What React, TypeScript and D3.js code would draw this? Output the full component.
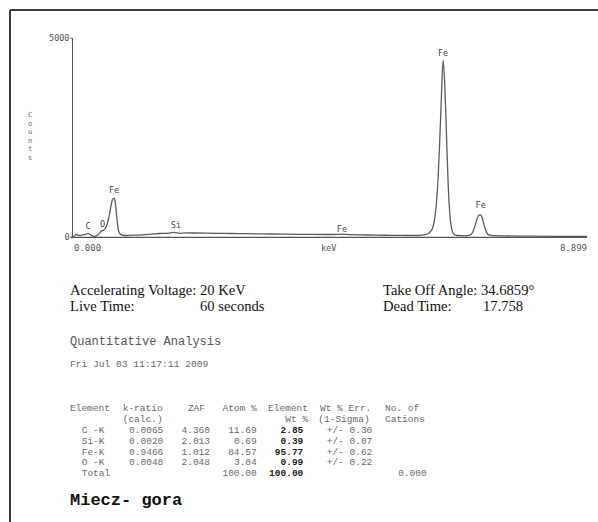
import React from "react";
import * as d3 from "d3";

// ---- Spectrum data: [energy keV, counts] ----
const spectrumKeV = [0.0, 0.03, 0.06, 0.1, 0.13, 0.17, 0.2, 0.24, 0.27, 0.3, 0.33, 0.37, 0.4, 0.44, 0.47, 0.5, 0.52, 0.55, 0.58, 0.61, 0.64, 0.67, 0.69, 0.72, 0.74, 0.76, 0.78, 0.8, 0.83, 0.87, 0.93, 1.0, 1.1, 1.2, 1.3, 1.4, 1.5, 1.6, 1.68, 1.74, 1.79, 1.85, 1.95, 2.1, 2.3, 2.5, 2.75, 3.0, 3.3, 3.6, 3.9, 4.2, 4.5, 4.66, 4.8, 5.1, 5.4, 5.7, 5.95, 6.08, 6.17, 6.23, 6.27, 6.31, 6.35, 6.38, 6.41, 6.44, 6.47, 6.5, 6.53, 6.56, 6.6, 6.65, 6.72, 6.8, 6.87, 6.92, 6.96, 7.0, 7.03, 7.06, 7.09, 7.12, 7.16, 7.2, 7.28, 7.45, 7.7, 8.0, 8.3, 8.6, 8.899];
const spectrumCounts = [0, 30, 70, 55, 45, 60, 65, 80, 100, 75, 45, 25, 30, 60, 110, 160, 170, 190, 260, 380, 580, 820, 940, 985, 880, 600, 320, 150, 75, 50, 45, 48, 55, 62, 75, 85, 95, 100, 105, 125, 115, 100, 110, 108, 104, 100, 96, 90, 85, 80, 75, 72, 70, 78, 65, 58, 52, 46, 45, 60, 110, 240, 520, 1150, 2350, 3500, 4450, 3800, 2500, 1250, 520, 200, 75, 45, 40, 38, 55, 120, 280, 470, 555, 560, 470, 300, 130, 60, 40, 35, 30, 28, 25, 22, 20];

// ---- Peak labels ----
const peakLabels = ["C", "O", "Fe", "Si", "Fe", "Fe", "Fe"];
const peakLabelKeV = [0.27, 0.52, 0.72, 1.79, 4.66, 6.41, 7.06];
const peakLabelCounts = [150, 215, 1060, 195, 95, 4500, 690];

// ---- Axis ----
const countTicks = [0, 5000];
const keVRange = [0, 8.899];
const axisTexts = ["0.000", "keV", "8.899"];
const yAxisTitle = "Counts";

// ---- Header info ----
const infoLeft = ["Accelerating Voltage: 20 KeV", "Live Time:"];
const infoLeftValue = ["", "60 seconds"];
const infoRight = ["Take Off Angle: 34.6859°", "Dead Time:"];
const infoRightValue = ["", "17.758"];
const analysisTitle = "Quantitative Analysis";
const analysisDate = "Fri Jul 03 11:17:11 2009";

// ---- Table ----
const headerRow1 = ["Element", "k-ratio", "ZAF", "Atom %", "Element", "Wt % Err.", "No. of"];
const headerRow2 = ["", "(calc.)", "", "", "Wt %", "(1-Sigma)", "Cations"];
const elements = ["C -K", "Si-K", "Fe-K", "O -K", "Total"];
const kRatio = ["0.0065", "0.0020", "0.9466", "0.0048", ""];
const zaf = ["4.360", "2.013", "1.012", "2.048", ""];
const atomPct = ["11.69", "0.69", "84.57", "3.04", "100.00"];
const wtPct = ["2.85", "0.39", "95.77", "0.99", "100.00"];
const wtErr = ["+/- 0.30", "+/- 0.07", "+/- 0.62", "+/- 0.22", ""];
const cations = ["", "", "", "", "0.000"];
const sampleName = "Miecz- gora";

const W = 598;
const H = 522;

export default function App() {
  const x = d3.scaleLinear().domain(keVRange).range([72.5, 587]);
  const y = d3.scaleLinear().domain([0, 5000]).range([237.3, 38.3]);
  const pts: [number, number][] = spectrumKeV.map((e, i) => [e, spectrumCounts[i]]);
  const path = d3
    .line<[number, number]>()
    .x((d) => x(d[0]))
    .y((d) => y(d[1]))
    .curve(d3.curveMonotoneX)(pts) as string;

  const mono = "'Liberation Mono', 'DejaVu Sans Mono', monospace";
  const serif = "'Liberation Serif', 'Times New Roman', serif";
  const small = "'DejaVu Sans Mono', monospace";

  const hdr1Pos: [number, string][] = [[70, "start"], [122.7, "start"], [205, "end"], [256.7, "end"], [308, "end"], [320, "start"], [385, "start"]];
  const hdr2Pos: [number, string][] = [[70, "start"], [122.7, "start"], [205, "end"], [256.7, "end"], [308, "end"], [318.3, "start"], [385, "start"]];
  const rowBase = [433, 443.8, 454.6, 465.4, 476.2];
  const tGray = "#6a6a6a";

  return (
    <svg
      width={W}
      height={H}
      style={{ position: "absolute", left: 0, top: 0, background: "#fff" }}
    >
      <rect x={0} y={0} width={W} height={H} fill="#fff" />
      {/* frame */}
      <line x1={10} y1={10} x2={W} y2={10} stroke="#3a3a3a" strokeWidth={2} />
      <line x1={10} y1={10} x2={10} y2={H} stroke="#3a3a3a" strokeWidth={2} />

      {/* axes */}
      <line x1={x(0)} y1={y(5000)} x2={x(0)} y2={y(0)} stroke="#555" strokeWidth={1} />
      <line x1={x(0) - 2} y1={y(0)} x2={x(keVRange[1])} y2={y(0)} stroke="#555" strokeWidth={1.2} />
      {countTicks.map((t) => (
        <g key={t}>
          <line x1={x(0) - 2} x2={x(0)} y1={y(t)} y2={y(t)} stroke="#555" />
          <text
            x={x(0) - 3}
            y={y(t) + 2.5}
            textAnchor="end"
            fontFamily={small}
            fontSize={8.5}
            fill="#555"
          >
            {t}
          </text>
        </g>
      ))}
      <text x={74} y={251} fontFamily={small} fontSize={9} fill="#555">
        {axisTexts[0]}
      </text>
      <text x={321} y={251} fontFamily={small} fontSize={8.5} fill="#555">
        {axisTexts[1]}
      </text>
      <text x={587} y={251} textAnchor="end" fontFamily={small} fontSize={9} fill="#555">
        {axisTexts[2]}
      </text>
      <text x={30} y={117} textAnchor="middle" fontFamily={small} fontSize={7} fill="#666">
        {yAxisTitle.split("").map((ch, i) => (
          <tspan key={i} x={30} dy={i === 0 ? 0 : 8.5}>
            {ch}
          </tspan>
        ))}
      </text>

      {/* spectrum */}
      <path d={path} fill="none" stroke="#5a5a5a" strokeWidth={1.3} />
      {peakLabels.map((t, i) => (
        <text
          key={i}
          x={x(peakLabelKeV[i])}
          y={y(peakLabelCounts[i]) - 2}
          textAnchor="middle"
          fontFamily={small}
          fontSize={8.5}
          fill="#444"
        >
          {t}
        </text>
      ))}

      {/* info */}
      {infoLeft.map((t, i) => (
        <text key={"l" + i} x={70} y={295 + i * 16} fontFamily={serif} fontSize={14.6} fill="#111">
          {t}
        </text>
      ))}
      {infoLeftValue.map((t, i) => (
        <text key={"lv" + i} x={200} y={295 + i * 16} fontFamily={serif} fontSize={14.6} fill="#111">
          {t}
        </text>
      ))}
      {infoRight.map((t, i) => (
        <text key={"r" + i} x={383} y={295 + i * 16} fontFamily={serif} fontSize={14.6} fill="#111">
          {t}
        </text>
      ))}
      {infoRightValue.map((t, i) => (
        <text key={"rv" + i} x={483} y={295 + i * 16} fontFamily={serif} fontSize={14.6} fill="#111">
          {t}
        </text>
      ))}
      <text x={70} y={345} fontFamily={mono} fontSize={12} fill="#555">
        {analysisTitle}
      </text>
      <text x={70} y={367} fontFamily={mono} fontSize={9.6} fill="#666">
        {analysisDate}
      </text>

      {/* table */}
      {headerRow1.map((t, i) => (
        <text key={"h1" + i} x={hdr1Pos[i][0]} y={411} textAnchor={hdr1Pos[i][1] as any} fontFamily={mono} fontSize={9.5} fill={tGray}>
          {t}
        </text>
      ))}
      {headerRow2.map((t, i) => (
        <text key={"h2" + i} x={hdr2Pos[i][0]} y={422} textAnchor={hdr2Pos[i][1] as any} fontFamily={mono} fontSize={9.5} fill={tGray}>
          {t}
        </text>
      ))}
      {elements.map((el, i) => (
        <g key={"r" + i} fontFamily={mono} fontSize={9.5} fill={tGray}>
          <text x={81.7} y={rowBase[i]}>{el}</text>
          <text x={163.3} y={rowBase[i]} textAnchor="end">{kRatio[i]}</text>
          <text x={210} y={rowBase[i]} textAnchor="end">{zaf[i]}</text>
          <text x={256.7} y={rowBase[i]} textAnchor="end">{atomPct[i]}</text>
          <text x={303.3} y={rowBase[i]} textAnchor="end" fontWeight="bold" fill="#222">{wtPct[i]}</text>
          <text x={326.7} y={rowBase[i]}>{wtErr[i]}</text>
          <text x={426.7} y={rowBase[i]} textAnchor="end">{cations[i]}</text>
        </g>
      ))}
      <text x={70} y={505} fontFamily={mono} fontSize={17} fontWeight="bold" fill="#111">
        {sampleName}
      </text>
    </svg>
  );
}
